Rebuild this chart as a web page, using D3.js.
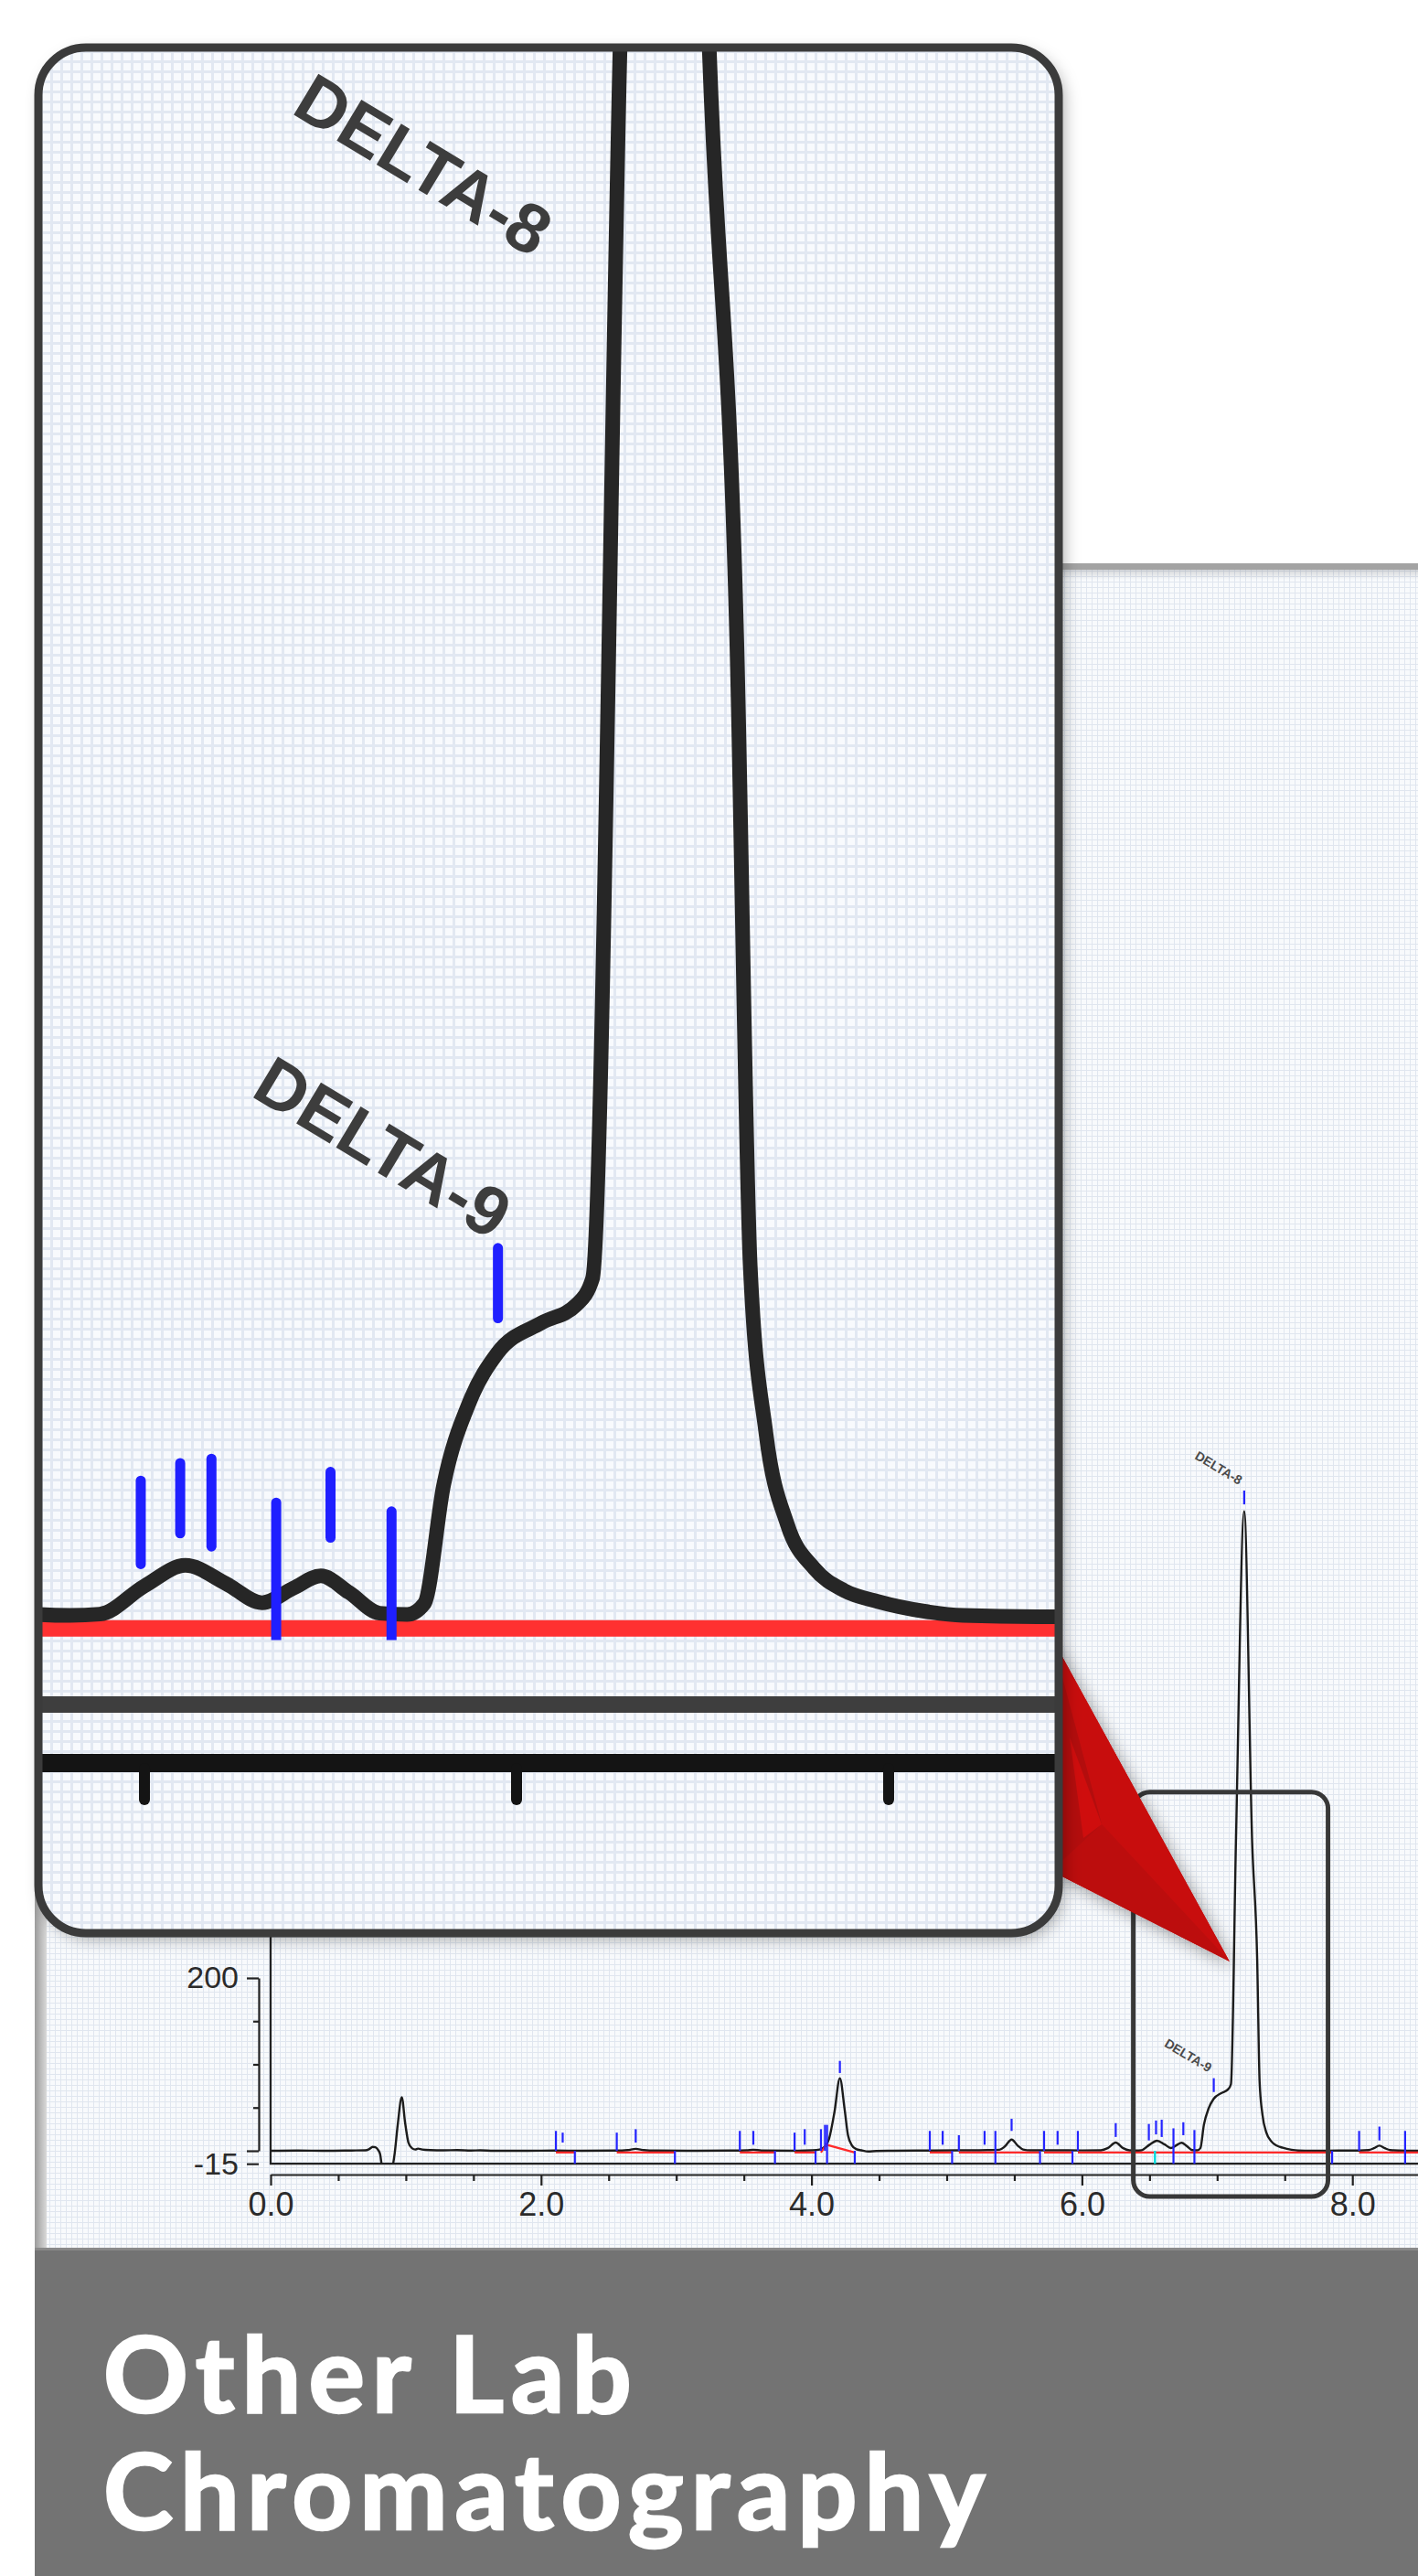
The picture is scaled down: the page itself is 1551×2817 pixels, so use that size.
<!DOCTYPE html>
<html>
<head>
<meta charset="utf-8">
<title>Other Lab Chromatography</title>
<script src="https://cdn.jsdelivr.net/npm/d3@7/dist/d3.min.js"></script>
<style>
    html, body { margin: 0; padding: 0; background: #fff; }
    svg { display: block; }
</style>
</head>
<body>
<svg id="chart" width="1551" height="2817"></svg>
<script>
// 色谱曲线 [时间(min), 响应]
var trace = [
    [0.00, 0], [0.20, 0.3], [0.40, 0], [0.60, 0.3], [0.70, 0.5], [0.73, 2], [0.755, 4.5], [0.775, 4],
    [0.795, 1], [0.81, -4], [0.825, -18], [0.90, -18], [0.915, -6], [0.94, 30], [0.97, 62], [0.995, 32],
    [1.02, 9], [1.045, 3], [1.07, 1.5], [1.09, 2.5], [1.12, 1.5], [1.18, 0.8], [1.28, 0.5], [1.38, 0.8],
    [1.48, 0.3], [1.55, 0.6], [1.65, 0], [1.90, 0], [2.10, 0.2], [2.30, 0], [2.55, 0.2], [2.64, 0.8],
    [2.70, 2.2], [2.76, 0.8], [2.85, 0.2], [3.10, 0], [3.40, 0.2], [3.52, 0.5], [3.57, 1.2], [3.63, 0.3],
    [3.90, 0], [4.00, 0.5], [4.06, 1.5], [4.10, 5], [4.13, 14], [4.17, 45], [4.21, 84], [4.245, 48],
    [4.27, 18], [4.30, 6], [4.33, 2], [4.37, 0.5], [4.42, -0.8], [4.48, -0.2], [4.60, 0], [4.90, 0.3],
    [5.10, 0.5], [5.30, 0.8], [5.39, 1.2], [5.43, 5], [5.48, 13], [5.525, 6], [5.565, 1.5], [5.62, 0.5],
    [5.80, 0.6], [6.00, 0.4], [6.14, 0.6], [6.19, 3], [6.25, 9.5], [6.305, 3], [6.35, 0.6], [6.40, 0.3],
    [6.44, 0.6], [6.50, 7], [6.555, 11.7], [6.61, 7.5], [6.658, 3.2], [6.70, 6.5], [6.737, 9.3],
    [6.775, 5.5], [6.816, 0.8], [6.853, 0.5], [6.876, 3], [6.902, 30], [6.937, 49], [6.974, 60],
    [7.034, 67], [7.080, 71], [7.102, 77], [7.139, 357], [7.200, 740], [7.259, 357], [7.296, 222],
    [7.314, 80], [7.335, 42], [7.364, 21], [7.40, 11], [7.44, 6], [7.485, 3.5], [7.55, 1.2], [7.60, 0.3],
    [7.70, 0], [7.90, 0.2], [8.05, 0.3], [8.12, 0.8], [8.16, 3], [8.20, 6], [8.24, 3], [8.28, 0.8],
    [8.35, 0.3], [8.50, 0]
];

// 积分标记 [时间, 下端, 上端]
var markers = [
    [2.11, 0, 23], [2.16, 9.5, 21], [2.25, -15, 0], [2.56, 0, 21], [2.70, 9.5, 25], [2.99, -15, 0],
    [3.47, 0, 23], [3.57, 7, 23], [3.73, -15, 0], [3.875, 0, 21], [3.95, 7, 25], [4.03, -15, 0],
    [4.07, 0, 25], [4.10, 0, 30], [4.115, -15, 30], [4.21, 90, 104], [4.32, -15, 0],
    [4.875, 0, 23], [4.97, 7, 23], [5.04, -15, 0], [5.09, 0, 18], [5.28, 7, 23], [5.36, -15, 23],
    [5.48, 23, 37], [5.69, -15, 0], [5.72, 0, 23], [5.82, 7, 23], [5.93, -15, 0], [5.97, 0, 23],
    [6.25, 16, 32], [6.495, 12, 31], [6.548, 19, 35], [6.59, 16, 36], [6.677, -15, 26], [6.75, 18, 33],
    [6.832, -15, 24], [6.975, 68, 84], [7.20, 748, 764], [7.85, -15, 0], [8.05, 0, 23], [8.20, 12, 28],
    [8.39, -15, 23]
];
var cyanMarkers = [[6.54, -15, 0]];

// 积分基线
var baselines = [
    [[2.11, -2], [2.25, -2]],
    [[2.56, -2], [2.99, -2]],
    [[3.47, -2], [3.73, -2]],
    [[3.875, -2], [4.03, -2]],
    [[4.07, -2], [4.11, 7], [4.32, -2]],
    [[4.875, -2], [5.04, -2]],
    [[5.09, -2], [5.69, -2]],
    [[5.72, -2], [5.93, -2]],
    [[5.97, -2], [7.85, -2]],
    [[8.05, -2], [8.50, -2]]
];

var xTicks = [0, 0.5, 1, 1.5, 2, 2.5, 3, 3.5, 4, 4.5, 5, 5.5, 6, 6.5, 7, 7.5, 8, 8.5];
var xLabels = [0, 2, 4, 6, 8];
var yTicks = [-15, 0, 50, 100, 150, 200, 250, 300, 350, 400, 450, 500, 550, 600, 650, 700, 750, 800];
var yLabels = [-15, 200, 400, 600, 800];

var peaks = [
    {name: 'DELTA-9', time: 6.975, top: 84},
    {name: 'DELTA-8', time: 7.20, top: 764}
];
var zoomDomain = [6.355, 7.731];
var boxDomain = [6.38, 7.82];
var titleLines = ['Other Lab', 'Chromatography'];

var W = 1551, H = 2817;
var font = "'Liberation Sans', Arial, Helvetica, sans-serif";

var svg = d3.select('#chart');
var defs = svg.append('defs');

// 网格底纹
var gridS = defs.append('pattern').attr('id', 'grid-s')
    .attr('width', 6).attr('height', 6).attr('patternUnits', 'userSpaceOnUse');
gridS.append('rect').attr('width', 6).attr('height', 6).attr('fill', '#f8fafc');
gridS.append('path').attr('d', 'M0 0.5H6M0.5 0V6')
    .attr('stroke', '#e0e6ef').attr('stroke-width', 1);

var gridL = defs.append('pattern').attr('id', 'grid-l')
    .attr('width', 11).attr('height', 11).attr('patternUnits', 'userSpaceOnUse');
gridL.append('rect').attr('width', 11).attr('height', 11).attr('fill', '#f8fafd');
gridL.append('path').attr('d', 'M0 1.5H11M1.5 0V11')
    .attr('stroke', '#e2e8f2').attr('stroke-width', 3);

// 阴影
var shadow = defs.append('filter').attr('id', 'shadow')
    .attr('x', '-20%').attr('y', '-20%').attr('width', '140%').attr('height', '140%');
shadow.append('feDropShadow').attr('dx', 5).attr('dy', 6).attr('stdDeviation', 9)
    .attr('flood-color', '#000').attr('flood-opacity', 0.35);

var stripGrad = defs.append('linearGradient').attr('id', 'strip-grad');
stripGrad.append('stop').attr('offset', '0%').attr('stop-color', '#9c9c9c');
stripGrad.append('stop').attr('offset', '100%').attr('stop-color', '#d9d9d9');

var topGrad = defs.append('linearGradient').attr('id', 'top-grad')
    .attr('x1', 0).attr('y1', 0).attr('x2', 0).attr('y2', 1);
topGrad.append('stop').attr('offset', '0%').attr('stop-color', '#000').attr('stop-opacity', 0.15);
topGrad.append('stop').attr('offset', '100%').attr('stop-color', '#000').attr('stop-opacity', 0);

// 背景
svg.append('rect').attr('width', W).attr('height', H).attr('fill', '#fff');
svg.append('rect').attr('x', 38).attr('y', 618).attr('width', W - 38).attr('height', 2458 - 618)
    .attr('fill', 'url(#grid-s)');
svg.append('rect').attr('x', 38).attr('y', 618).attr('width', 13).attr('height', 2458 - 618)
    .attr('fill', 'url(#strip-grad)');
svg.append('rect').attr('x', 38).attr('y', 622).attr('width', W - 38).attr('height', 12)
    .attr('fill', 'url(#top-grad)');
svg.append('rect').attr('x', 38).attr('y', 616).attr('width', W - 38).attr('height', 7)
    .attr('fill', '#a3a3a3');

// 主图比例尺
var x = d3.scaleLinear().domain([0, 8.5]).range([296, 296 + 8.5 * 147.9]);
var y = d3.scaleLinear().domain([0, 200]).range([2352, 2163]);
var axisY = 2378;

var main = svg.append('g').attr('font-family', font);

defs.append('clipPath').attr('id', 'main-clip').append('rect')
    .attr('x', x(0)).attr('y', 624).attr('width', W - x(0)).attr('height', y(-15) - 624);

// 纵轴
var yAxisG = main.append('g')
    .attr('transform', 'translate(283,0)')
    .call(d3.axisLeft(y).tickValues(yTicks).tickSize(6).tickSizeOuter(0)
        .tickFormat(function (d) { return yLabels.indexOf(d) > -1 ? String(d) : ''; }));
yAxisG.select('.domain').attr('stroke', '#222').attr('stroke-width', 2.2);
yAxisG.selectAll('.tick line').attr('stroke', '#222').attr('stroke-width', 2.2)
    .attr('x2', function (d) { return (yLabels.indexOf(d) > -1 || d === 0) ? -13 : -6; });
yAxisG.selectAll('.tick text')
    .attr('x', -22).attr('fill', '#2b2b2b')
    .attr('font-size', 34).attr('font-family', font);

// 图框
main.append('path')
    .attr('d', 'M' + x(0) + ',' + y(800) + 'V' + y(-15) + 'H' + W)
    .attr('fill', 'none').attr('stroke', '#222').attr('stroke-width', 2.2);

// 横轴
var xAxisG = main.append('g')
    .attr('transform', 'translate(0,' + axisY + ')')
    .call(d3.axisBottom(x).tickValues(xTicks).tickSize(7).tickSizeOuter(0)
        .tickFormat(function (d) { return xLabels.indexOf(d) > -1 ? d.toFixed(1) : ''; }));
xAxisG.select('.domain').attr('stroke', '#222').attr('stroke-width', 2.2);
xAxisG.selectAll('.tick line').attr('stroke', '#222').attr('stroke-width', 2.2)
    .attr('y2', function (d) { return xLabels.indexOf(d) > -1 ? 12 : 7; });
xAxisG.selectAll('.tick text')
    .attr('y', 19).attr('fill', '#2b2b2b')
    .attr('font-size', 36).attr('font-family', font);

// 曲线
var line = d3.line()
    .x(function (d) { return x(d[0]); })
    .y(function (d) { return y(d[1]); })
    .curve(d3.curveMonotoneX);

var plot = main.append('g').attr('clip-path', 'url(#main-clip)');
plot.append('path').datum(trace)
    .attr('d', line)
    .attr('fill', 'none').attr('stroke', '#1c1c1c').attr('stroke-width', 2.4)
    .attr('stroke-linejoin', 'round');

var baseLine = d3.line()
    .x(function (d) { return x(d[0]); })
    .y(function (d) { return y(d[1]); });
plot.selectAll('.base').data(baselines).enter().append('path')
    .attr('class', 'base')
    .attr('d', baseLine)
    .attr('fill', 'none').attr('stroke', '#ff2a2a').attr('stroke-width', 2.2);

main.selectAll('.marker').data(markers).enter().append('line')
    .attr('class', 'marker')
    .attr('x1', function (d) { return x(d[0]); })
    .attr('x2', function (d) { return x(d[0]); })
    .attr('y1', function (d) { return y(d[1]); })
    .attr('y2', function (d) { return y(d[2]); })
    .attr('stroke', '#2424ff').attr('stroke-width', 2.2);

main.selectAll('.cyan').data(cyanMarkers).enter().append('line')
    .attr('class', 'cyan')
    .attr('x1', function (d) { return x(d[0]); })
    .attr('x2', function (d) { return x(d[0]); })
    .attr('y1', function (d) { return y(d[1]); })
    .attr('y2', function (d) { return y(d[2]); })
    .attr('stroke', '#00dede').attr('stroke-width', 2.4);

// 峰名
main.selectAll('.peak-label').data(peaks).enter().append('text')
    .attr('class', 'peak-label')
    .attr('transform', function (d) {
        return 'translate(' + (x(d.time) - 6) + ',' + (y(d.top) - 6) + ') rotate(31)';
    })
    .attr('text-anchor', 'end')
    .attr('font-size', 14).attr('font-weight', 'bold')
    .attr('fill', '#4a4a4a')
    .text(function (d) { return d.name; });

// 放大区域框
main.append('rect')
    .attr('x', x(boxDomain[0])).attr('y', y(415))
    .attr('width', x(boxDomain[1]) - x(boxDomain[0]))
    .attr('height', axisY + 24 - y(415))
    .attr('rx', 18)
    .attr('fill', 'none').attr('stroke', '#383838').attr('stroke-width', 5);

// 红色指示箭头
var tip = [x(7.20) - 16, 2145];
var pointer = svg.append('g').attr('filter', 'url(#shadow)');
pointer.append('path')
    .attr('d', 'M1150,1790L' + tip[0] + ',' + tip[1] + 'L1150,2046Z')
    .attr('fill', '#bb0909');
pointer.append('path')
    .attr('d', 'M1150,1790L' + tip[0] + ',' + tip[1] + 'L1205,1995Z')
    .attr('fill', '#c80b0b');
pointer.append('path')
    .attr('d', 'M1150,1790L1205,1995L1150,2046Z')
    .attr('fill', '#b30808');
pointer.append('path')
    .attr('d', 'M1150,2046L1205,1995L' + tip[0] + ',' + tip[1] + 'Z')
    .attr('fill', '#bc0a0a');
pointer.append('path')
    .attr('d', 'M1170,1900L1205,1995L1185,2010Z')
    .attr('fill', '#d60e0e').attr('opacity', 0.8);

// 放大镜
var mx = d3.scaleLinear().domain(zoomDomain).range([40, 1160]);
var my = d3.scaleLinear().domain([-15, 0, 100]).range([1864, 1768, 1288]);
var magAxisY = my(-15) + 64;

svg.append('rect')
    .attr('x', 42).attr('y', 52).attr('width', 1116).attr('height', 2062).attr('rx', 52)
    .attr('fill', 'url(#grid-l)').attr('filter', 'url(#shadow)');

defs.append('clipPath').attr('id', 'mag-clip').append('rect')
    .attr('x', 44).attr('y', 54).attr('width', 1112).attr('height', 2058).attr('rx', 50);
defs.append('clipPath').attr('id', 'mark-clip').append('rect')
    .attr('x', 0).attr('y', 0).attr('width', W).attr('height', my(-4));

var mag = svg.append('g').attr('clip-path', 'url(#mag-clip)').attr('font-family', font);

var magBase = d3.line()
    .x(function (d) { return mx(d[0]); })
    .y(function (d) { return my(d[1]); });
mag.selectAll('.mbase').data(baselines).enter().append('path')
    .attr('d', magBase)
    .attr('fill', 'none').attr('stroke', '#ff3131').attr('stroke-width', 18);

mag.append('line')
    .attr('x1', 40).attr('x2', 1160).attr('y1', my(-15)).attr('y2', my(-15))
    .attr('stroke', '#3e3e3e').attr('stroke-width', 18);
mag.append('line')
    .attr('x1', 40).attr('x2', 1160).attr('y1', magAxisY).attr('y2', magAxisY)
    .attr('stroke', '#141414').attr('stroke-width', 20);
mag.selectAll('.mtick')
    .data(xTicks.filter(function (d) { return d >= zoomDomain[0] && d <= zoomDomain[1]; }))
    .enter().append('line')
    .attr('x1', function (d) { return mx(d); })
    .attr('x2', function (d) { return mx(d); })
    .attr('y1', magAxisY + 6).attr('y2', magAxisY + 40)
    .attr('stroke', '#141414').attr('stroke-width', 12).attr('stroke-linecap', 'round');

var magLine = d3.line()
    .x(function (d) { return mx(d[0]); })
    .y(function (d) { return my(d[1]); })
    .curve(d3.curveMonotoneX);
mag.append('path').datum(trace)
    .attr('d', magLine)
    .attr('fill', 'none').attr('stroke', '#262626').attr('stroke-width', 16)
    .attr('stroke-linejoin', 'round').attr('stroke-linecap', 'round');

mag.append('g').attr('clip-path', 'url(#mark-clip)')
    .selectAll('.mmark')
    .data(markers.filter(function (d) { return d[0] >= zoomDomain[0] && d[0] <= zoomDomain[1]; }))
    .enter().append('line')
    .attr('x1', function (d) { return mx(d[0]); })
    .attr('x2', function (d) { return mx(d[0]); })
    .attr('y1', function (d) { return my(d[1]); })
    .attr('y2', function (d) { return my(d[2]); })
    .attr('stroke', '#1f1fff').attr('stroke-width', 11).attr('stroke-linecap', 'round');

// 放大镜中的峰名
var magLabels = [
    {name: 'DELTA-8', x: 317, y: 123},
    {name: 'DELTA-9', x: mx(peaks[0].time) - 272, y: my(peaks[0].top) - 167}
];
mag.selectAll('.mlabel').data(magLabels).enter().append('text')
    .attr('transform', function (d) { return 'translate(' + d.x + ',' + d.y + ') rotate(31)'; })
    .attr('font-size', 76).attr('font-weight', 'bold')
    .attr('fill', '#3d3d3d')
    .text(function (d) { return d.name; });

svg.append('rect')
    .attr('x', 42).attr('y', 52).attr('width', 1116).attr('height', 2062).attr('rx', 52)
    .attr('fill', 'none').attr('stroke', '#3b3b3b').attr('stroke-width', 9);

// 底部标题
svg.append('rect').attr('x', 38).attr('y', 2458).attr('width', W - 38).attr('height', H - 2458)
    .attr('fill', '#737373');
svg.append('rect').attr('x', 38).attr('y', 2458).attr('width', W - 38).attr('height', 3)
    .attr('fill', '#8a8a8a');

svg.selectAll('.title').data(titleLines).enter().append('text')
    .attr('class', 'title')
    .attr('x', 113)
    .attr('y', function (d, i) { return 2638 + i * 128; })
    .attr('font-family', "Lato, 'Open Sans', sans-serif")
    .attr('font-weight', 'bold')
    .attr('font-size', 115)
    .attr('letter-spacing', 8)
    .attr('fill', '#fff')
    .attr('stroke', '#fff').attr('stroke-width', 2.5)
    .text(function (d) { return d; });
</script>
</body>
</html>
